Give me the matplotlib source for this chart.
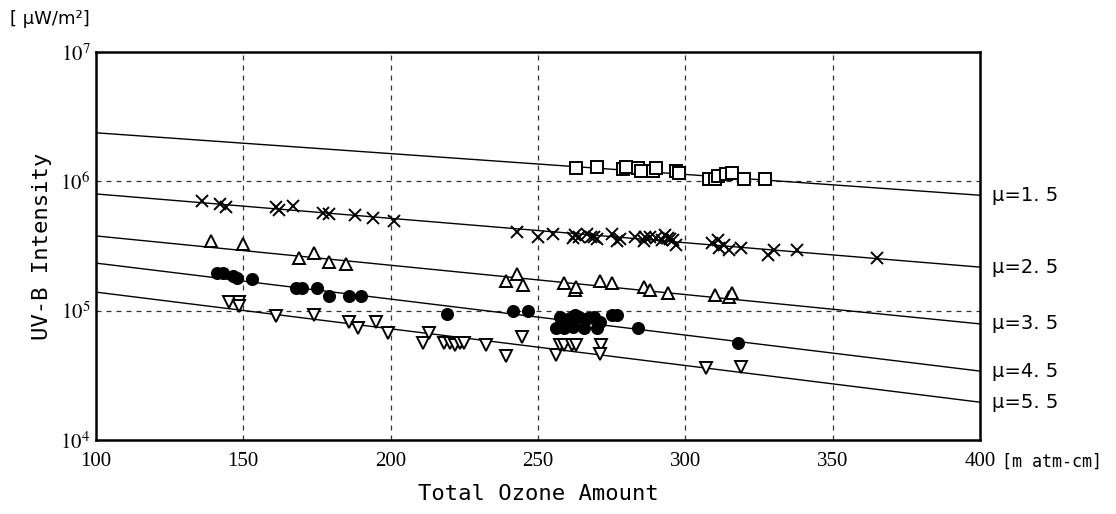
import matplotlib
matplotlib.use("Agg")
import matplotlib.pyplot as plt

plt.rcParams["mathtext.fontset"] = "stix"

# fitted lines, values read at ozone = 100 and 400
line_x = [100, 400]
mu_names = ["μ=1. 5", "μ=2. 5", "μ=3. 5", "μ=4. 5", "μ=5. 5"]
mu_start = [2.37e6, 7.98e5, 3.78e5, 2.33e5, 1.39e5]
mu_end = [7.8e5, 2.17e5, 7.9e4, 3.41e4, 1.96e4]

# mu = 1.5 (squares)
sq_x = [263, 270, 279, 280, 284, 285, 289, 290, 297, 298, 308, 310, 311, 314, 316, 320, 327]
sq_y = [1.26e6, 1.28e6, 1.24e6, 1.28e6, 1.26e6, 1.19e6, 1.19e6, 1.26e6, 1.19e6, 1.15e6,
        1.05e6, 1.04e6, 1.10e6, 1.14e6, 1.15e6, 1.05e6, 1.05e6]

# mu = 2.5 (crosses)
cr_x = [136, 142, 144, 161, 162, 167, 177, 179, 188, 194, 201,
        243, 250, 255, 262, 262.5, 264, 266.5, 268, 269, 270, 275, 277, 278,
        283, 286, 286.5, 288, 290, 292, 293, 294, 295, 296, 297,
        309, 311, 311.5, 313, 315, 319, 328, 330, 338, 365]
cr_y = [7.08e5, 6.64e5, 6.37e5, 6.30e5, 6.0e5, 6.44e5, 5.72e5, 5.58e5, 5.49e5, 5.23e5, 4.93e5,
        4.08e5, 3.73e5, 3.91e5, 3.62e5, 3.84e5, 3.69e5, 3.91e5, 3.73e5, 3.69e5, 3.56e5, 3.91e5, 3.47e5, 3.56e5,
        3.69e5, 3.47e5, 3.69e5, 3.69e5, 3.62e5, 3.52e5, 3.84e5, 3.62e5, 3.56e5, 3.52e5, 3.22e5,
        3.35e5, 3.52e5, 3.03e5, 3.22e5, 2.94e5, 3.03e5, 2.69e5, 2.94e5, 2.94e5, 2.54e5]

# mu = 3.5 (open triangles)
tu_x = [139, 150, 169, 174, 179, 185,
        239, 243, 245, 259, 262.5, 263, 271, 275, 286, 288, 294, 310, 315, 316]
tu_y = [3.47e5, 3.26e5, 2.57e5, 2.77e5, 2.39e5, 2.29e5,
        1.70e5, 1.92e5, 1.58e5, 1.63e5, 1.44e5, 1.51e5, 1.70e5, 1.64e5, 1.53e5, 1.44e5, 1.36e5,
        1.32e5, 1.28e5, 1.36e5]

# mu = 4.5 (filled circles)
ci_x = [141, 143, 146.5, 148, 153, 168, 170, 175, 179, 186, 190, 219,
        241.5, 246.5, 256, 257.5, 259, 261, 262, 262.5, 264, 265.5, 267, 269, 270, 271,
        275, 277, 284, 318]
ci_y = [1.94e5, 1.94e5, 1.85e5, 1.78e5, 1.75e5, 1.49e5, 1.49e5, 1.49e5, 1.30e5, 1.30e5, 1.30e5, 9.4e4,
        9.9e4, 9.9e4, 7.3e4, 9.0e4, 7.3e4, 8.7e4, 7.5e4, 9.25e4, 9.0e4, 7.3e4, 8.7e4, 9.0e4, 7.3e4, 8.2e4,
        9.25e4, 9.25e4, 7.3e4, 5.65e4]

# mu = 5.5 (open inverted triangles)
td_x = [145, 148.5, 148.5, 161, 174, 186, 189, 195, 199, 213, 211, 218, 220, 222, 223.5, 225,
        232.5, 239, 244.5, 256, 257.5, 259, 261.5, 263, 271.5, 271, 307, 319]
td_y = [1.17e5, 1.17e5, 1.09e5, 9.1e4, 9.25e4, 8.2e4, 7.3e4, 8.2e4, 6.67e4, 6.67e4, 5.58e4, 5.58e4,
        5.58e4, 5.42e4, 5.58e4, 5.65e4, 5.42e4, 4.46e4, 6.28e4, 4.54e4, 5.42e4, 5.42e4, 5.42e4, 5.42e4,
        5.42e4, 4.6e4, 3.58e4, 3.68e4]

x_ticks = [100, 150, 200, 250, 300, 350, 400]
y_ticks = [1e4, 1e5, 1e6, 1e7]
y_tick_labels = ["$10^4$", "$10^5$", "$10^6$", "$10^7$"]

fig = plt.figure(figsize=(11.16, 5.14), dpi=100)
ax = fig.add_axes([0.086, 0.144, 0.792, 0.755])
ax.set_yscale("log")
ax.set_xlim(100, 400)
ax.set_ylim(1e4, 1e7)

# grid
for gx in x_ticks[1:-1]:
    ax.axvline(gx, color="#333333", lw=0.9, ls=(0, (4, 4)), zorder=1)
for gy in [1e5, 1e6]:
    ax.axhline(gy, color="#333333", lw=0.9, ls=(0, (4, 4)), zorder=1)

# lines
for name, y0, y1 in zip(mu_names, mu_start, mu_end):
    ax.plot(line_x, [y0, y1], color="black", lw=1.0, zorder=2)
    ax.annotate(name, xy=(1.014, y1), xycoords=("axes fraction", "data"),
                va="center", ha="left", fontsize=14, family=["DejaVu Sans"],
                annotation_clip=False)

mk = dict(linestyle="none", markersize=8, markeredgewidth=1.4, zorder=3)
ax.plot(sq_x, sq_y, marker="s", mfc="white", mec="black", **mk)
ax.plot(cr_x, cr_y, marker="x", color="black", **mk)
ax.plot(tu_x, tu_y, marker="^", mfc="white", mec="black", **mk)
ax.plot(ci_x, ci_y, marker="o", mfc="black", mec="black", **mk)
ax.plot(td_x, td_y, marker="v", mfc="white", mec="black", **mk)

for s in ax.spines.values():
    s.set_linewidth(1.8)

ax.set_xticks(x_ticks)
ax.set_xticklabels([str(v) for v in x_ticks], family="Liberation Serif", fontsize=15)
ax.set_yticks(y_ticks)
ax.set_yticklabels(y_tick_labels, fontsize=15)
ax.yaxis.set_minor_locator(matplotlib.ticker.NullLocator())
ax.tick_params(axis="y", length=0, pad=4)
ax.tick_params(axis="x", length=0, pad=9)

ax.set_xlabel("Total Ozone Amount", family="DejaVu Sans Mono", fontsize=16, labelpad=9)
ax.set_ylabel("UV-B Intensity", family="DejaVu Sans Mono", fontsize=16, labelpad=6)

ax.annotate("[m atm-cm]", xy=(1.0, 0), xycoords="axes fraction", xytext=(16, -9),
            textcoords="offset points", va="top", ha="left", fontsize=12,
            family=["DejaVu Sans Mono"], annotation_clip=False)
fig.text(0.009, 0.963, "[ μW/m²]", fontsize=13, family=["DejaVu Sans"], va="center", ha="left")

fig.savefig("out.png", dpi=100)
